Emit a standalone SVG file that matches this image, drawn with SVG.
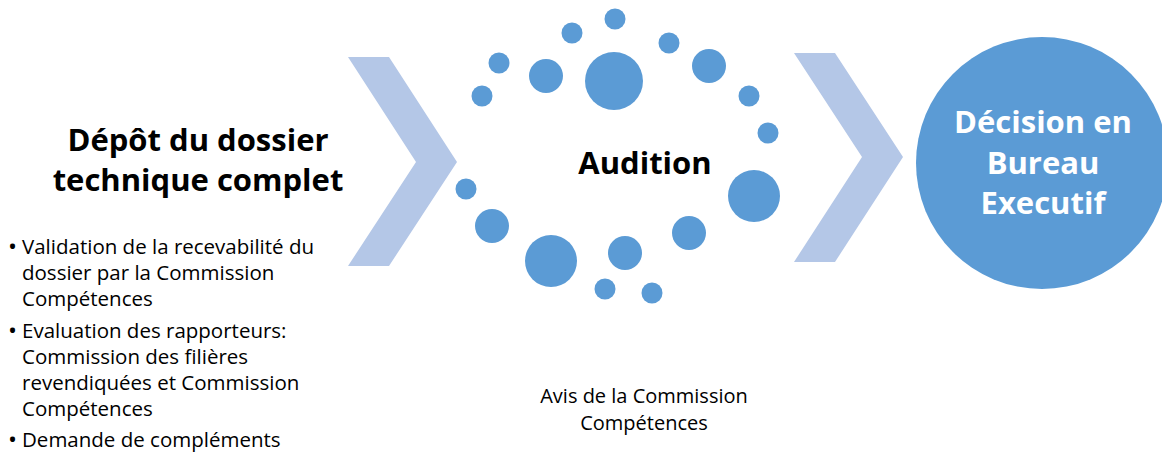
<svg xmlns="http://www.w3.org/2000/svg" width="1162" height="455" viewBox="0 0 1162 455">
<style>
.chev{fill:#b4c7e7}
.dot{fill:#5b9bd5}
.title{font-family:"Open Sans","Liberation Sans",sans-serif;font-weight:bold;fill:#000}
.body{font-family:"Open Sans","Liberation Sans",sans-serif;fill:#000}
.white{font-family:"Open Sans","Liberation Sans",sans-serif;font-weight:bold;fill:#fff}
</style>
<rect width="1162" height="455" fill="#fff"/>
<g id="node-depot">
<text class="title" font-size="31" text-anchor="middle"><tspan x="198" y="151">Dépôt du dossier</tspan><tspan x="198" y="191">technique complet</tspan></text>
<text class="body" font-size="24"><tspan x="8" y="255">•</tspan><tspan x="8" y="339">•</tspan><tspan x="8" y="448">•</tspan></text>
<text class="body" font-size="20.5">
<tspan x="22" y="254">Validation de la recevabilité du</tspan>
<tspan x="22" y="280">dossier par la Commission</tspan>
<tspan x="22" y="306">Compétences</tspan>
<tspan x="22" y="338">Evaluation des rapporteurs:</tspan>
<tspan x="22" y="364">Commission des filières</tspan>
<tspan x="22" y="390">revendiquées et Commission</tspan>
<tspan x="22" y="416">Compétences</tspan>
<tspan x="22" y="447">Demande de compléments</tspan>
</text>
</g>
<g id="connectors">
<polygon class="chev" points="348,57 389,57 457,162 389,266 348,266 416,162"/>
<polygon class="chev" points="794,53 835,53 903,157 835,262 794,262 862,157"/>
</g>
<g id="node-audition">
<circle class="dot" cx="615" cy="19" r="10.5"/>
<circle class="dot" cx="572" cy="33" r="10.5"/>
<circle class="dot" cx="669" cy="43" r="10.5"/>
<circle class="dot" cx="499" cy="63" r="10.5"/>
<circle class="dot" cx="546" cy="76" r="17"/>
<circle class="dot" cx="614" cy="81" r="29"/>
<circle class="dot" cx="709" cy="66" r="17"/>
<circle class="dot" cx="482" cy="96" r="10.5"/>
<circle class="dot" cx="749" cy="96" r="10.5"/>
<circle class="dot" cx="768" cy="133" r="10.5"/>
<circle class="dot" cx="466" cy="189" r="10.5"/>
<circle class="dot" cx="754" cy="196" r="26"/>
<circle class="dot" cx="492" cy="226" r="17"/>
<circle class="dot" cx="689" cy="233" r="17"/>
<circle class="dot" cx="551" cy="261" r="26"/>
<circle class="dot" cx="625" cy="253" r="17"/>
<circle class="dot" cx="605" cy="289" r="10.5"/>
<circle class="dot" cx="652" cy="293" r="10.5"/>
<text class="title" font-size="31" text-anchor="middle" x="645" y="174">Audition</text>
<text class="body" font-size="20" text-anchor="middle" x="644" y="403">Avis de la Commission</text>
<text class="body" font-size="20" text-anchor="middle" x="644" y="430">Compétences</text>
</g>
<g id="node-decision">
<circle class="dot" cx="1042" cy="163" r="126"/>
<text class="white" font-size="31" text-anchor="middle"><tspan x="1043" y="133">Décision en</tspan><tspan x="1043" y="174">Bureau</tspan><tspan x="1043" y="214">Executif</tspan></text>
</g>
</svg>
